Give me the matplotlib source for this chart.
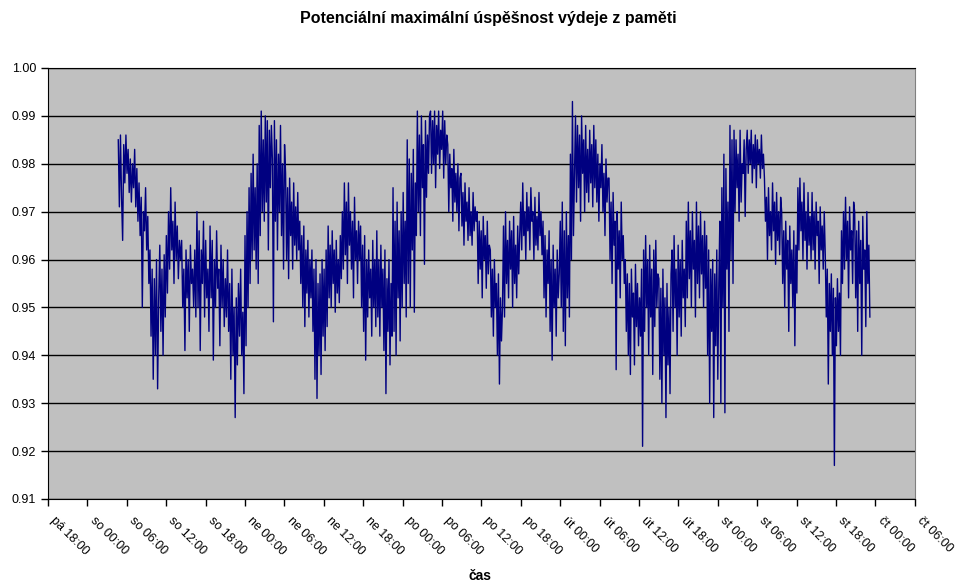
import numpy as np
import matplotlib.pyplot as plt

plt.rcParams['font.family'] = ['Liberation Sans', 'DejaVu Sans']

# úspěšnost výdeje z paměti, vzorky v tisícinách (0.978 -> 978)
sobota = [985, 971, 986, 973, 964, 984, 976, 986, 978,
          983, 974, 981, 972, 980, 975, 983, 971,
          979, 968, 976, 965, 973, 950, 970, 966, 975, 962,
          969, 955, 962, 944, 958, 935, 956, 940, 960, 933, 952,
          963, 945, 958, 940, 961, 948,
          965, 953, 970, 958, 975, 962, 968, 955, 972, 960, 967, 956, 964, 960,
          964, 950, 958, 941, 962, 952, 960, 945, 963, 955, 958, 950, 962, 948,
          970, 950, 966, 941, 962, 955, 968, 948, 964, 952, 958, 945,
          967, 952, 964, 939, 960, 950, 966, 954, 958, 942, 963, 950, 960, 946, 956, 948,
          962, 945, 955, 935, 958, 940, 950, 927, 952, 938, 955, 944, 958, 940, 949, 932]

nedele = [965, 942, 970, 950, 975, 955, 978, 960, 982, 962, 975, 958, 980, 955,
          988, 965, 991, 970, 985, 968, 990, 972,
          989, 962, 987, 975, 988,
          981, 947, 989, 968, 985, 962, 982, 970, 988, 965, 980, 958, 984,
          978, 960, 975, 956, 977, 965, 972, 958, 976, 963, 971, 960, 974, 962,
          968, 955, 965, 950, 967, 946, 962, 953, 964, 948, 960, 952,
          962, 945, 958, 935, 960, 931, 955, 940, 957, 936, 960, 944, 958, 941, 962, 946,
          967, 952, 963, 950, 966, 955, 962, 949, 964, 953, 960, 951, 965, 956,
          970, 958, 976, 961, 972, 955, 976, 963, 970, 958, 968, 952, 973, 960, 966, 955, 968, 960,
          967, 950, 963, 945, 965, 939, 960, 948, 962, 952, 958, 944, 964, 950, 960, 946,
          966, 948, 960, 944, 963, 950, 958, 941, 962, 932, 956, 945, 960, 938, 955, 944,
          975, 945, 968, 940, 972, 952, 966, 943, 970, 950, 974, 955, 968, 948]

pondeli = [985, 955, 981, 950, 978, 962, 983, 949, 976, 965,
           991, 970, 986, 965, 990, 975, 984, 959, 989, 973, 986, 978, 990,
           991, 978, 989, 980, 991, 975, 988, 982, 991, 979, 987, 983, 991, 977, 989, 980, 986,
           984, 970, 982, 975, 979, 968, 983, 972, 978, 970, 980, 966, 977,
           978, 967, 974, 963, 976, 968, 972, 964, 975, 965, 970, 963, 974, 966, 971, 968,
           970, 955, 968, 958, 966, 952, 969, 960, 965, 954, 968, 957, 963,
           962, 948, 958, 944, 960, 950, 955, 940, 957, 934, 952, 943, 950,
           967, 948, 970, 955, 964, 952, 968, 958, 966, 950, 969, 955, 963, 952, 967, 957, 965,
           972, 962, 976, 965, 970, 960, 974, 966, 971, 962, 975, 968, 970, 960, 973, 963, 969,
           962, 974, 965, 970, 961,
           968, 952, 965, 948, 962, 955, 966, 945, 960, 939, 963, 950, 958, 944, 962, 952, 957]

utery = [968, 950, 972, 945, 966, 942, 970, 952, 965, 948,
         982, 960, 993, 965, 978,
         990, 972, 988, 975, 986, 968, 990, 978, 985, 970, 988, 974, 983, 972, 987, 976, 984,
         971, 988, 975,
         985, 972, 982, 968, 980, 975, 984, 970, 978, 965, 981, 972, 977,
         977, 960, 972, 955, 974, 963, 968, 937, 970, 958, 966, 952, 972, 960, 965, 955,
         960, 945, 957, 940, 955, 936, 958, 948, 953, 938, 959, 946, 955, 942, 952, 944,
         958, 921, 962, 945, 965, 950, 960, 940, 963, 948, 958, 936, 962, 946, 964, 950, 957,
         956, 935, 954, 930, 958, 940, 952, 927, 955, 938, 950, 932, 957,
         962, 945, 965, 950, 958, 940, 963, 948, 960, 944, 964, 952, 958, 946,
         968, 952, 972, 956, 966, 950, 970, 958, 964, 948, 972, 955, 967, 952, 970, 957, 965,
         950, 968, 954,
         965, 940, 962, 930, 958, 945, 960, 927, 957, 942, 962, 935, 955]

streda = [968, 930, 975, 950, 982, 928, 979, 958, 972, 945,
          988, 960, 985, 955,
          987, 970, 985, 975, 982, 968, 987, 972, 980, 978, 985, 969, 983,
          987, 978, 985, 980, 987, 976, 984, 979, 986, 975, 985, 980, 983, 977, 986, 979, 982,
          977, 968, 973, 960, 975, 965, 970, 962, 976, 966, 972, 959, 974, 964, 970, 961, 973,
          970, 955, 966, 950, 968, 958, 964, 945, 967, 955, 962, 950, 966, 942, 963, 953,
          975, 962, 977, 966, 972, 960, 976, 964, 970, 958, 974, 963, 969, 960,
          974, 962, 970, 958, 972, 965, 968, 955, 971, 962, 967, 958, 970,
          961, 948, 958, 934, 955, 945, 957, 940, 954, 917, 952, 942, 956, 945, 953, 940,
          966, 955, 970, 958, 973, 960, 968, 952, 971, 962, 966, 955, 972,
          970, 952, 966, 945, 968, 955, 964, 940, 969, 958, 962, 946, 970, 955, 963, 948]

# časové úseky jednotlivých dnů v hodinách od pá 18:00
useky = [(10.7, 30.0), (30.0, 54.7), (54.7, 78.0), (78.0, 102.3), (102.3, 125.3)]

tick_labels = ['pá 18:00', 'so 00:00', 'so 06:00', 'so 12:00', 'so 18:00',
               'ne 00:00', 'ne 06:00', 'ne 12:00', 'ne 18:00',
               'po 00:00', 'po 06:00', 'po 12:00', 'po 18:00',
               'út 00:00', 'út 06:00', 'út 12:00', 'út 18:00',
               'st 00:00', 'st 06:00', 'st 12:00', 'st 18:00',
               'čt 00:00', 'čt 06:00']

#%%
# poskládat časovou osu a hodnoty
cas = []
hodnoty = []
for den, (od, do) in zip([sobota, nedele, pondeli, utery, streda], useky):
    cas.append(np.linspace(od, do, len(den), endpoint=False))
    hodnoty.append(np.array(den) / 1000.0)
cas = np.concatenate(cas)
hodnoty = np.concatenate(hodnoty)

#%%
fig = plt.figure(figsize=(9.6, 5.83), dpi=100)
ax = fig.add_axes([0.05, 0.1441, 0.903, 0.7393])
ax.set_facecolor('#c0c0c0')

ax.plot(cas, hodnoty, color='#000080', lw=1.0)

ax.set_xlim(0, 6 * (len(tick_labels) - 1))
ax.set_ylim(0.91, 1.00)
ax.set_yticks(np.arange(0.91, 1.0001, 0.01))
ax.set_yticklabels(['%.2f' % v for v in np.arange(0.91, 1.0001, 0.01)])
ax.set_xticks(np.arange(len(tick_labels)) * 6)
ax.set_xticklabels(tick_labels, rotation=-45, ha='left')

ax.grid(axis='y', color='black', lw=1)
ax.set_axisbelow(True)
ax.tick_params(direction='out', length=5, width=1, colors='black', labelsize=9)
ax.tick_params(axis='x', pad=6)

for side in ['left', 'bottom', 'top']:
    ax.spines[side].set_color('black')
ax.spines['right'].set_color('#808080')

fig.text(488 / 960, 1 - 18 / 583, 'Potenciální maximální úspěšnost výdeje z paměti',
         ha='center', va='center', fontsize=11.5, fontweight='bold')
fig.text(480 / 960, 1 - 576 / 583, 'čas', ha='center', va='center',
         fontsize=10, fontweight='bold')

plt.savefig('out.png', dpi=100)
